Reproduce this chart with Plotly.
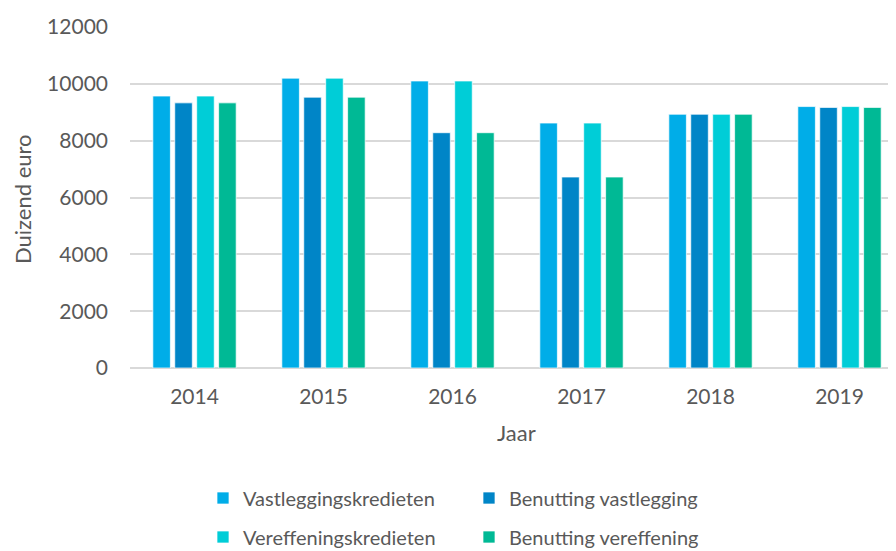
import plotly.graph_objects as go

years = ["2014", "2015", "2016", "2017", "2018", "2019"]
vastleggingskredieten = [9570, 10200, 10100, 8620, 8930, 9200]
benutting_vastlegging = [9330, 9530, 8280, 6720, 8930, 9170]
vereffeningskredieten = [9570, 10200, 10100, 8620, 8930, 9200]
benutting_vereffening = [9330, 9530, 8280, 6720, 8930, 9170]

series = [
    ("Vastleggingskredieten", vastleggingskredieten, "#00ADE8", "legend"),
    ("Benutting vastlegging", benutting_vastlegging, "#0085C7", "legend"),
    ("Vereffeningskredieten", vereffeningskredieten, "#00CDD7", "legend2"),
    ("Benutting vereffening", benutting_vereffening, "#00B995", "legend2"),
]

FONT = "Lato"
TXT = "#595959"

fig = go.Figure()
for name, vals, col, lg in series:
    fig.add_trace(go.Bar(
        x=years, y=vals, name=name, legend=lg,
        marker=dict(color=col, line=dict(color="rgba(255,255,255,0.7)", width=1)),
    ))

# page body has an 8px margin; work in screen pixels and convert
OFF = 8
W, H = 896 - OFF, 551 - OFF
L, T = 130 - OFF, 27 - OFF
B = H - (368 - OFF)
R = 0
pw = W - L - R
ph = H - T - B

def sx(x):
    return (x - OFF - L) / pw

def sy(y):
    return (H - B - (y - OFF)) / ph

legend_common = dict(
    orientation="h", xanchor="left", yanchor="middle",
    font=dict(family=FONT, size=20, color=TXT),
    entrywidth=221, entrywidthmode="pixels",
    bgcolor="rgba(0,0,0,0)", itemclick=False,
)

fig.update_layout(
    width=W, height=H,
    margin=dict(l=L, r=R, t=T, b=B, pad=0, autoexpand=False),
    paper_bgcolor="white", plot_bgcolor="white",
    font=dict(family=FONT, size=21, color=TXT),
    barmode="group", bargap=0.32, bargroupgap=0.2,
    showlegend=True,
    legend=dict(x=sx(203), y=sy(498), **legend_common),
    legend2=dict(x=sx(203), y=sy(537), **legend_common),
    xaxis=dict(
        range=[-0.5, -0.5 + pw / 129.0],
        showgrid=False, showline=False, zeroline=False,
        ticks="", ticklabelstandoff=14,
        tickfont=dict(family=FONT, size=21, color=TXT),
        fixedrange=True,
    ),
    yaxis=dict(
        range=[0, 12000], dtick=2000, tick0=0,
        showgrid=True, gridcolor="#D9D9D9", gridwidth=1.8,
        zeroline=True, zerolinecolor="#D9D9D9", zerolinewidth=1.8,
        showline=False, ticks="", ticklabelstandoff=21,
        tickformat="d",
        tickfont=dict(family=FONT, size=21, color=TXT),
        fixedrange=True,
    ),
    annotations=[
        dict(text="Jaar", x=sx(516), y=sy(432), xref="paper", yref="paper",
             showarrow=False, xanchor="center", yanchor="middle",
             font=dict(family=FONT, size=22, color=TXT)),
        dict(text="Duizend euro", x=sx(22), y=sy(199), xref="paper", yref="paper",
             showarrow=False, xanchor="center", yanchor="middle", textangle=-90,
             font=dict(family=FONT, size=22, color=TXT)),
    ],
)

fig.write_html("out.html")
